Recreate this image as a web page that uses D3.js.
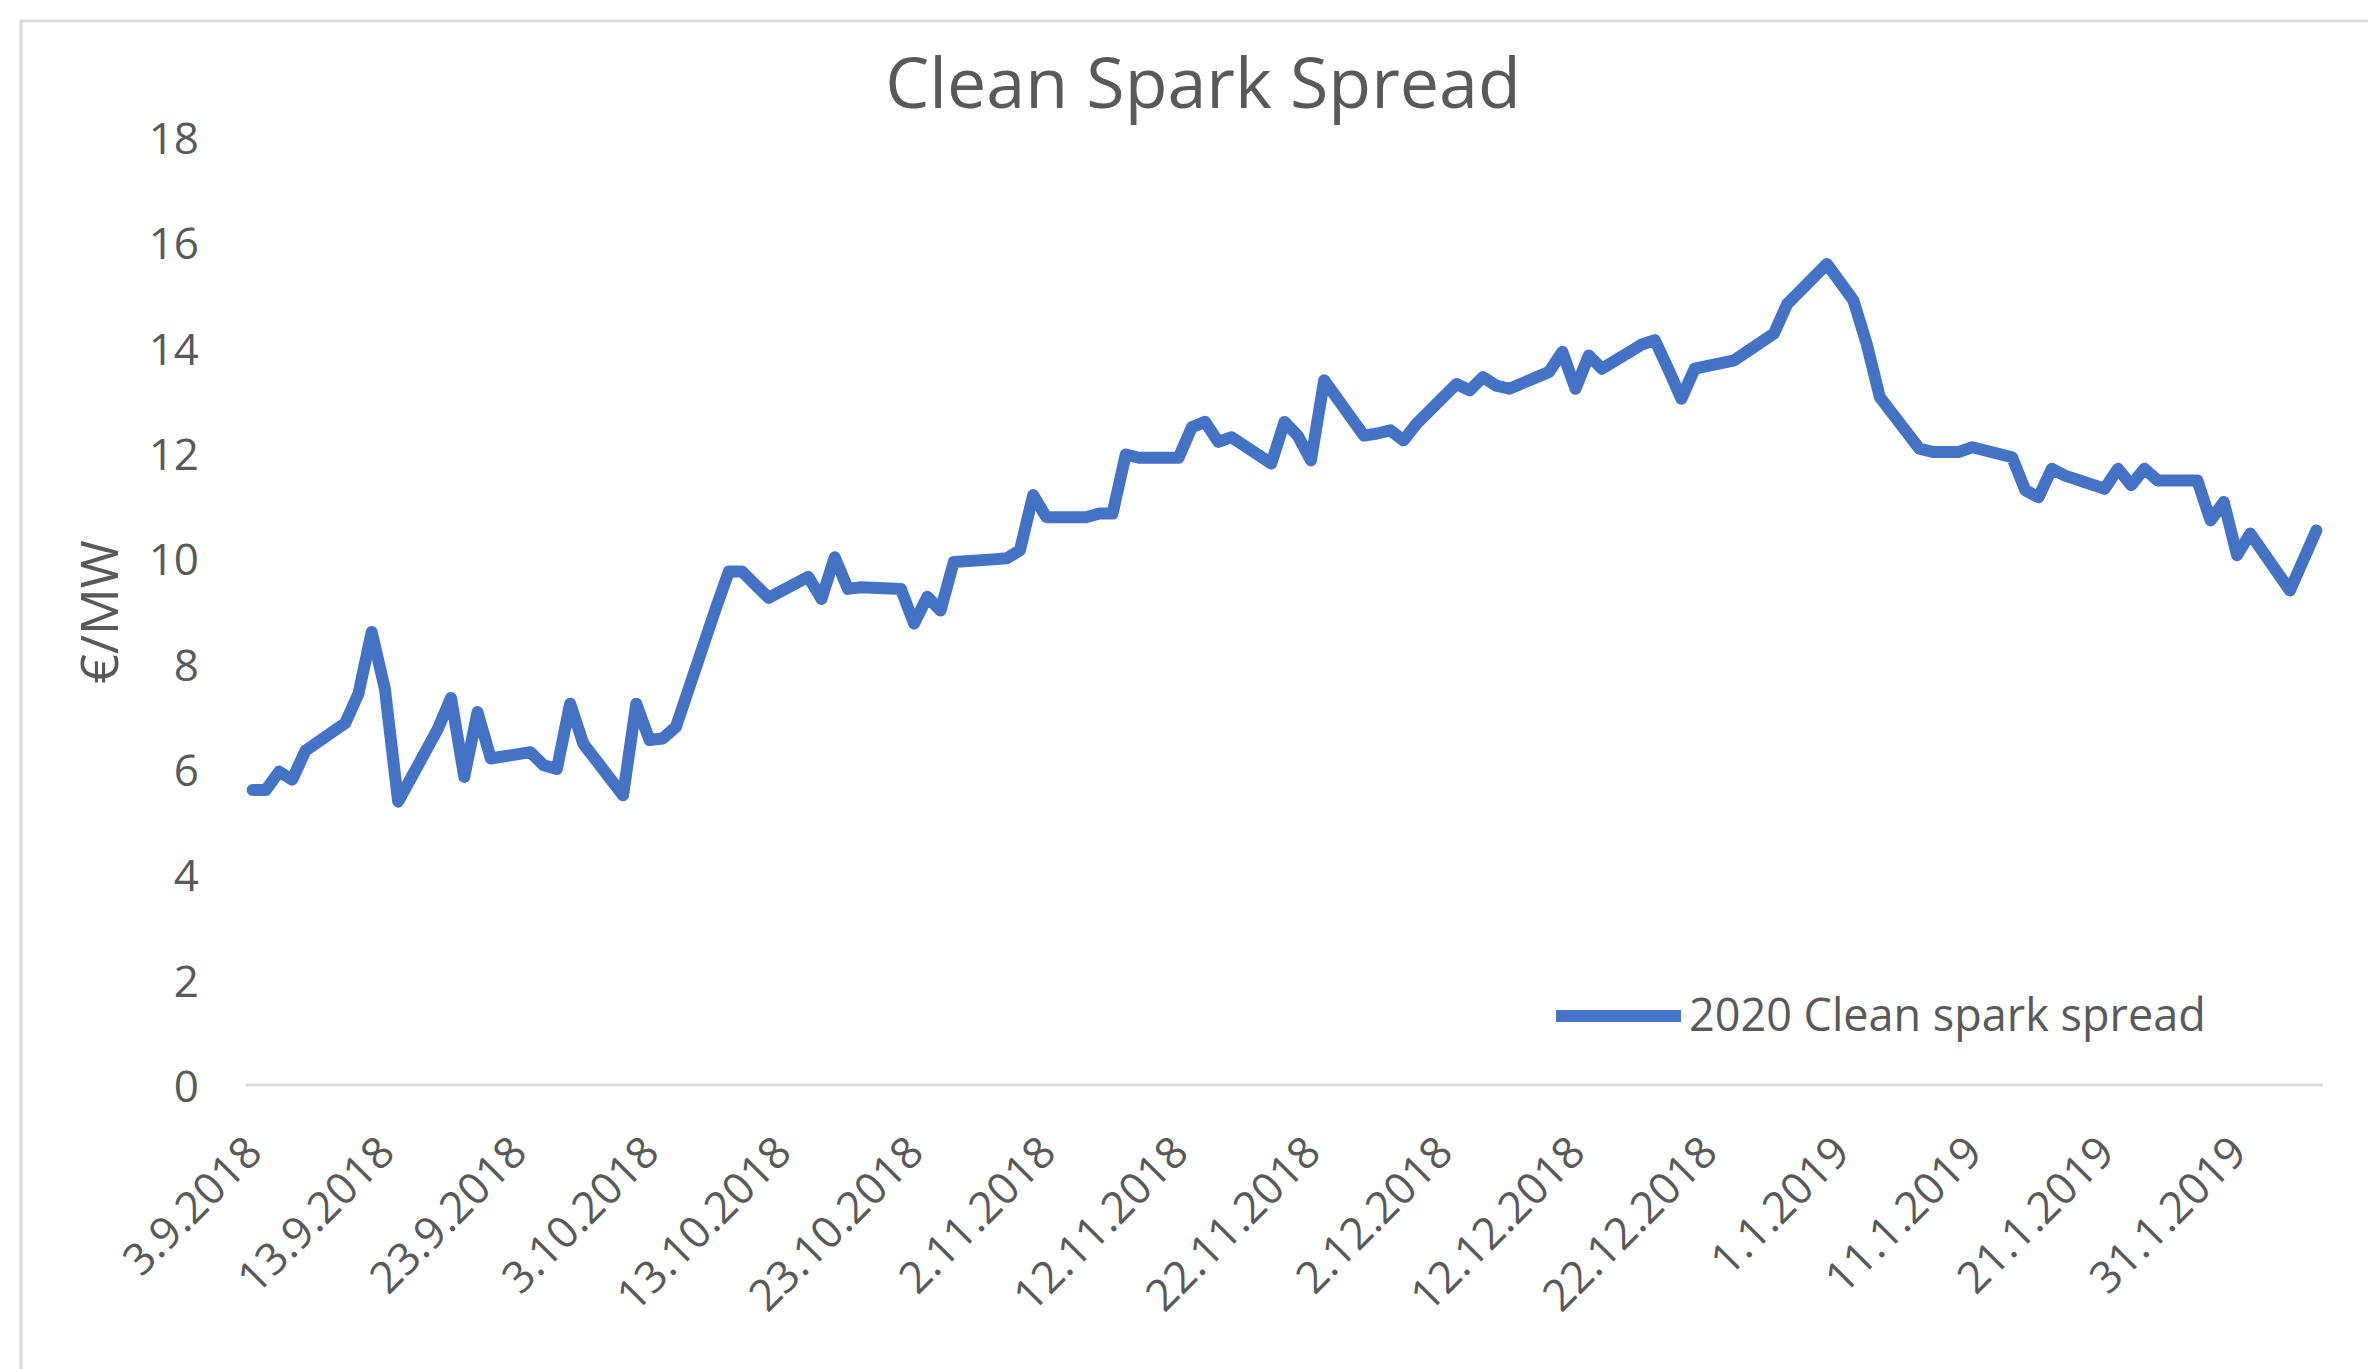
<!DOCTYPE html>
<html>
<head>
<meta charset="utf-8">
<script src="https://cdn.jsdelivr.net/npm/d3@7"></script>
<style>
  html, body { margin: 0; padding: 0; background: #fff; }
  svg { display: block; }
  text { font-family: "Open Sans", "Noto Sans", sans-serif; fill: #595959; }
</style>
</head>
<body>
<svg id="chart"></svg>
<script>
// Clean spark spread, trading days Sep 2018 - Feb 2019

const dates = [
  "3.9.2018", "4.9.2018", "5.9.2018", "6.9.2018", "7.9.2018",
  "10.9.2018", "11.9.2018", "12.9.2018", "13.9.2018", "14.9.2018",
  "17.9.2018", "18.9.2018", "19.9.2018", "20.9.2018", "21.9.2018",
  "24.9.2018", "25.9.2018", "26.9.2018", "27.9.2018", "28.9.2018",
  "1.10.2018", "2.10.2018", "3.10.2018", "4.10.2018", "5.10.2018",
  "8.10.2018", "9.10.2018", "10.10.2018", "11.10.2018", "12.10.2018",
  "15.10.2018", "16.10.2018", "17.10.2018", "18.10.2018", "19.10.2018",
  "22.10.2018", "23.10.2018", "24.10.2018", "25.10.2018", "26.10.2018",
  "29.10.2018", "30.10.2018", "31.10.2018", "1.11.2018", "2.11.2018",
  "5.11.2018", "6.11.2018", "7.11.2018", "8.11.2018", "9.11.2018",
  "12.11.2018", "13.11.2018", "14.11.2018", "15.11.2018", "16.11.2018",
  "19.11.2018", "20.11.2018", "21.11.2018", "22.11.2018", "23.11.2018",
  "26.11.2018", "27.11.2018", "28.11.2018", "29.11.2018", "30.11.2018",
  "3.12.2018", "4.12.2018", "5.12.2018", "6.12.2018", "7.12.2018",
  "10.12.2018", "11.12.2018", "12.12.2018", "13.12.2018", "14.12.2018",
  "17.12.2018", "18.12.2018", "19.12.2018", "20.12.2018", "21.12.2018",
  "24.12.2018", "27.12.2018", "28.12.2018",
  "31.12.2018", "2.1.2019", "3.1.2019", "4.1.2019",
  "7.1.2019", "8.1.2019", "9.1.2019", "10.1.2019", "11.1.2019",
  "14.1.2019", "15.1.2019", "16.1.2019", "17.1.2019", "18.1.2019",
  "21.1.2019", "22.1.2019", "23.1.2019", "24.1.2019", "25.1.2019",
  "28.1.2019", "29.1.2019", "30.1.2019", "31.1.2019", "1.2.2019",
  "4.2.2019", "5.2.2019", "6.2.2019"
];

const values = [
  5.6, 5.6, 5.95, 5.8, 6.35,
  6.87, 7.43, 8.6, 7.52, 5.38,
  6.76, 7.35, 5.85, 7.08, 6.2,
  6.32, 6.07, 6.0, 7.24, 6.48,
  5.5, 7.24, 6.55, 6.58, 6.8,
  9.04, 9.75, 9.75, 9.5, 9.25,
  9.65, 9.23, 10.02, 9.42, 9.45,
  9.42, 8.76, 9.27, 9.01, 9.93,
  9.98, 10.0, 10.15, 11.2, 10.78,
  10.78, 10.85, 10.85, 11.97, 11.91,
  11.91, 12.49, 12.59, 12.21, 12.3,
  11.8, 12.59, 12.33, 11.86, 13.38,
  12.33, 12.37, 12.43, 12.24, 12.56,
  13.31, 13.19, 13.44, 13.28, 13.22,
  13.54, 13.92, 13.22, 13.85, 13.6,
  14.06, 14.14, 13.6, 13.03, 13.6,
  13.76, 14.27, 14.83,
  15.59, 14.9, 14.08, 13.06,
  12.08, 12.02, 12.02, 12.02, 12.11,
  11.92, 11.29, 11.16, 11.7, 11.57,
  11.32, 11.7, 11.39, 11.7, 11.48,
  11.48, 10.72, 11.07, 10.06, 10.47,
  9.39, 9.96, 10.53
];

const xTickLabels = [
  "3.9.2018", "13.9.2018", "23.9.2018", "3.10.2018", "13.10.2018", "23.10.2018",
  "2.11.2018", "12.11.2018", "22.11.2018", "2.12.2018", "12.12.2018", "22.12.2018",
  "1.1.2019", "11.1.2019", "21.1.2019", "31.1.2019"
];
const yTicks = [0, 2, 4, 6, 8, 10, 12, 14, 16, 18];

const seriesName = "2020 Clean spark spread";
const title = "Clean Spark Spread";
const yTitle = "€/MW";

const W = 2368;
const H = 1369;
const DAY = 864e5;
const BLUE = "#4472C4";
const GREY = "#D9D9D9";

const parseDay = (s) => {
  const [d, m, y] = s.split(".").map(Number);
  return new Date(Date.UTC(y, m - 1, d));
};

const data = dates.map((d, i) => ({ date: parseDay(d), value: values[i] }));

const svg = d3.select("#chart").attr("width", W).attr("height", H);

// chart area frame (runs off the right/bottom edge like the screenshot)
svg.append("rect")
  .attr("x", 21).attr("y", 21)
  .attr("width", W).attr("height", H)
  .attr("fill", "#fff")
  .attr("stroke", GREY)
  .attr("stroke-width", 3);

// Excel date axis: each day is a slot, points sit in the slot middle
const x = d3.scaleUtc()
  .domain([+data[0].date - DAY / 2, +data[data.length - 1].date + DAY / 2])
  .range([246, 2323]);
const y = d3.scaleLinear().domain([0, 18]).range([1085, 137]);

// title
svg.append("text")
  .attr("x", 1203).attr("y", 108)
  .attr("text-anchor", "middle")
  .style("font-size", "70px")
  .text(title);

// y axis labels
svg.append("g")
  .selectAll("text")
  .data(yTicks)
  .join("text")
  .attr("x", 199)
  .attr("y", (d) => y(d))
  .attr("text-anchor", "end")
  .attr("dominant-baseline", "central")
  .style("font-size", "44px")
  .text((d) => d);

svg.append("text")
  .attr("transform", "translate(97,612) rotate(-90)")
  .attr("text-anchor", "middle")
  .attr("dominant-baseline", "central")
  .style("font-size", "52px")
  .text(yTitle);

// horizontal axis line at 0
svg.append("line")
  .attr("x1", x.range()[0]).attr("x2", x.range()[1])
  .attr("y1", y(0)).attr("y2", y(0))
  .attr("stroke", GREY)
  .attr("stroke-width", 3);

// rotated date labels
svg.append("g")
  .selectAll("text")
  .data(xTickLabels)
  .join("text")
  .attr("transform", (d) => `translate(${x(parseDay(d))},1143) rotate(-45)`)
  .attr("text-anchor", "end")
  .attr("dominant-baseline", "central")
  .style("font-size", "44px")
  .text((d) => d);

// series
const line = d3.line()
  .x((d) => x(d.date))
  .y((d) => y(d.value));

svg.append("path")
  .datum(data)
  .attr("d", line)
  .attr("fill", "none")
  .attr("stroke", BLUE)
  .attr("stroke-width", 12)
  .attr("stroke-linejoin", "round")
  .attr("stroke-linecap", "round");

// legend
const lg = svg.append("g").attr("transform", "translate(1556,1016)");
lg.append("line")
  .attr("x1", 0).attr("x2", 125)
  .attr("stroke", BLUE)
  .attr("stroke-width", 12);
lg.append("text")
  .attr("x", 133).attr("y", 15)
  .style("font-size", "45px")
  .text(seriesName);
</script>
</body>
</html>
